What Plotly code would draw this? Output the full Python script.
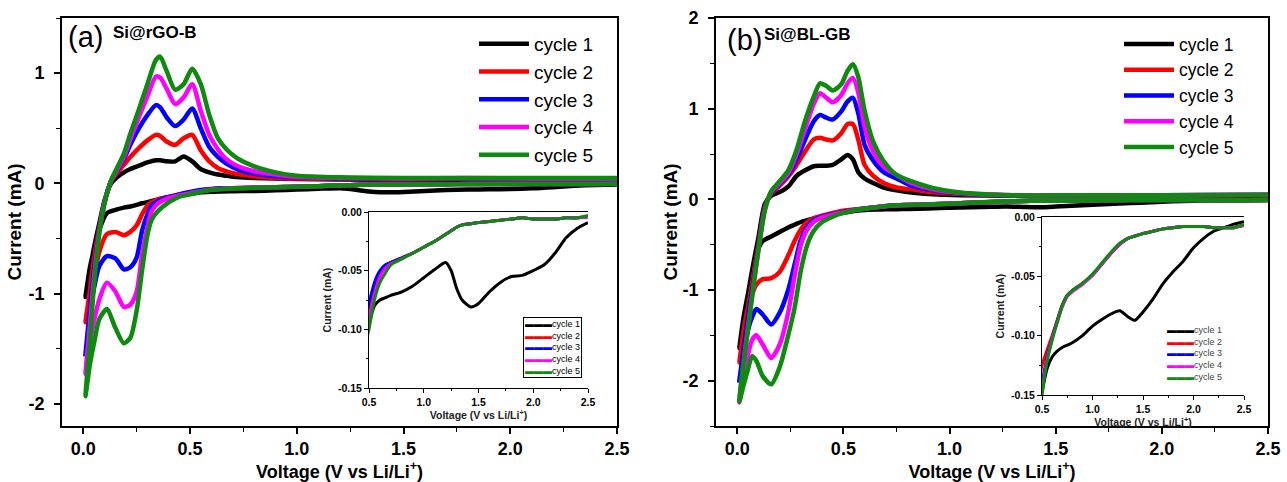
import plotly.graph_objects as go

FONT = "Liberation Sans, Arial, sans-serif"
CYCLES = ["cycle 1", "cycle 2", "cycle 3", "cycle 4", "cycle 5"]
COLORS = ["#000000", "#ff0000", "#0000ff", "#ff00ff", "#0e8a0e"]

# ---------------- Panel (a) Si@rGO-B ----------------
A_CATH_V = [2.5, 2.4, 2.3, 2.2, 2.1, 2.0, 1.9, 1.8, 1.7, 1.6, 1.5, 1.43, 1.35, 1.3, 1.25, 1.2, 1.1, 1.0,
            0.9, 0.8, 0.7, 0.65, 0.6, 0.55, 0.5,
            0.45, 0.39, 0.35, 0.32, 0.3, 0.275, 0.25, 0.22, 0.19, 0.15, 0.11, 0.075, 0.05, 0.03, 0.01]
A_CATH_C1 = [-0.009, -0.014, -0.022, -0.035, -0.045, -0.05, -0.054, -0.055, -0.06, -0.068, -0.078, -0.081,
             -0.075, -0.065, -0.05, -0.043, -0.049, -0.056, -0.063, -0.068, -0.071, -0.073, -0.075, -0.08, -0.095,
             -0.11, -0.13, -0.145, -0.16, -0.17, -0.18, -0.195, -0.21, -0.22, -0.24, -0.27, -0.42, -0.6, -0.77, -1.03]
A_CATH_C2 = [-0.004, -0.005, -0.005, -0.006, -0.006, -0.006, -0.005, -0.006, -0.007, -0.008, -0.009, -0.01,
             -0.011, -0.013, -0.016, -0.019, -0.025, -0.03, -0.035, -0.039, -0.043, -0.046, -0.052, -0.065, -0.085,
             -0.1, -0.125, -0.145, -0.17, -0.2, -0.28, -0.38, -0.44, -0.47, -0.44, -0.46, -0.62, -0.86, -1.05, -1.26]
A_CATH_C3 = [-0.004, -0.005, -0.005, -0.006, -0.006, -0.006, -0.005, -0.006, -0.007, -0.008, -0.009, -0.01,
             -0.011, -0.013, -0.016, -0.019, -0.025, -0.03, -0.035, -0.039, -0.043, -0.045, -0.05, -0.06, -0.078,
             -0.1, -0.13, -0.16, -0.2, -0.28, -0.43, -0.67, -0.76, -0.78, -0.68, -0.66, -0.75, -0.95, -1.2, -1.55]
A_CATH_C4 = [-0.004, -0.005, -0.005, -0.006, -0.006, -0.006, -0.005, -0.006, -0.007, -0.008, -0.009, -0.01,
             -0.011, -0.013, -0.016, -0.019, -0.025, -0.03, -0.035, -0.04, -0.044, -0.048, -0.055, -0.07, -0.09,
             -0.11, -0.14, -0.18, -0.25, -0.4, -0.65, -0.98, -1.1, -1.12, -0.98, -0.9, -1.05, -1.25, -1.45, -1.73]
A_CATH_C5 = [-0.003, -0.005, -0.005, -0.006, -0.006, -0.006, -0.005, -0.006, -0.007, -0.008, -0.009, -0.01,
             -0.011, -0.013, -0.016, -0.019, -0.025, -0.03, -0.035, -0.04, -0.045, -0.052, -0.06, -0.075, -0.1,
             -0.12, -0.185, -0.25, -0.33, -0.47, -0.79, -1.15, -1.4, -1.45, -1.31, -1.14, -1.23, -1.45, -1.65, -1.93]

A_AN_V = [0.01, 0.03, 0.05, 0.075, 0.1, 0.13, 0.16, 0.19, 0.22, 0.26, 0.3, 0.34, 0.36, 0.39, 0.43, 0.47,
          0.51, 0.55, 0.59, 0.63, 0.67, 0.72, 0.8, 0.9, 1.0, 1.2, 1.5, 1.8, 2.1, 2.5]
A_AN_C1 = [-1.03, -0.8, -0.58, -0.36, -0.15, 0.0, 0.06, 0.1, 0.13, 0.16, 0.19, 0.21, 0.21, 0.2, 0.2, 0.245,
           0.2, 0.13, 0.1, 0.08, 0.07, 0.058, 0.05, 0.045, 0.04, 0.035, 0.03, 0.03, 0.03, 0.03]
A_AN_C2 = [-1.26, -0.98, -0.68, -0.4, -0.16, 0.02, 0.1, 0.17, 0.24, 0.32, 0.39, 0.44, 0.43, 0.38, 0.35, 0.41,
           0.44, 0.3, 0.2, 0.14, 0.11, 0.085, 0.065, 0.05, 0.045, 0.04, 0.035, 0.04, 0.035, 0.035]
A_AN_C3 = [-1.55, -1.15, -0.78, -0.42, -0.17, 0.02, 0.12, 0.22, 0.35, 0.5, 0.62, 0.71, 0.69, 0.6, 0.52, 0.58,
           0.68, 0.5, 0.33, 0.24, 0.18, 0.13, 0.09, 0.065, 0.055, 0.045, 0.04, 0.045, 0.04, 0.04]
A_AN_C4 = [-1.73, -1.3, -0.85, -0.43, -0.17, 0.02, 0.13, 0.24, 0.4, 0.6, 0.79, 0.97, 0.96, 0.86, 0.72, 0.78,
           0.9, 0.66, 0.44, 0.31, 0.22, 0.16, 0.11, 0.08, 0.06, 0.05, 0.045, 0.05, 0.045, 0.045]
A_AN_C5 = [-1.93, -1.45, -0.92, -0.45, -0.17, 0.03, 0.15, 0.27, 0.45, 0.67, 0.9, 1.12, 1.15, 1.02, 0.85, 0.9,
           1.04, 0.9, 0.62, 0.41, 0.31, 0.23, 0.155, 0.1, 0.07, 0.055, 0.05, 0.05, 0.05, 0.05]

# ---------------- Panel (b) Si@BL-GB ----------------
B_CATH_V = [2.5, 2.4, 2.3, 2.2, 2.1, 2.0, 1.9, 1.8, 1.7, 1.6, 1.5, 1.42, 1.35, 1.27, 1.2, 1.1, 1.0,
            0.9, 0.8, 0.75, 0.7, 0.65, 0.6, 0.55, 0.5,
            0.45, 0.4, 0.36, 0.33, 0.3, 0.27, 0.24, 0.2, 0.16, 0.12, 0.09, 0.07, 0.05, 0.03, 0.01]
B_CATH_C1 = [-0.004, -0.006, -0.009, -0.012, -0.018, -0.026, -0.037, -0.046, -0.056, -0.069, -0.08, -0.087,
             -0.084, -0.079, -0.081, -0.086, -0.092, -0.1, -0.106, -0.108, -0.11, -0.113, -0.118, -0.128, -0.148,
             -0.17, -0.19, -0.21, -0.23, -0.25, -0.28, -0.31, -0.36, -0.41, -0.46, -0.6, -0.82, -1.05, -1.3, -1.64]
B_CATH_C2 = [-0.007, -0.009, -0.009, -0.009, -0.008, -0.008, -0.008, -0.009, -0.01, -0.012, -0.014, -0.016,
             -0.018, -0.023, -0.029, -0.039, -0.049, -0.056, -0.062, -0.066, -0.074, -0.087, -0.1, -0.112, -0.125,
             -0.15, -0.18, -0.21, -0.25, -0.33, -0.46, -0.62, -0.8, -0.87, -0.88, -0.94, -1.05, -1.2, -1.45, -1.8]
B_CATH_C3 = [-0.007, -0.009, -0.009, -0.009, -0.008, -0.008, -0.008, -0.009, -0.01, -0.012, -0.014, -0.016,
             -0.018, -0.023, -0.029, -0.039, -0.049, -0.056, -0.062, -0.066, -0.075, -0.088, -0.102, -0.118, -0.14,
             -0.16, -0.19, -0.23, -0.3, -0.44, -0.72, -1.0, -1.25, -1.38, -1.27, -1.21, -1.3, -1.45, -1.68, -2.0]
B_CATH_C4 = [-0.007, -0.009, -0.009, -0.009, -0.008, -0.008, -0.008, -0.009, -0.01, -0.012, -0.014, -0.016,
             -0.018, -0.023, -0.029, -0.039, -0.049, -0.057, -0.063, -0.067, -0.076, -0.089, -0.103, -0.12, -0.145,
             -0.17, -0.2, -0.25, -0.33, -0.5, -0.85, -1.25, -1.6, -1.75, -1.6, -1.5, -1.55, -1.72, -1.95, -2.24]
B_CATH_C5 = [-0.006, -0.009, -0.009, -0.009, -0.008, -0.008, -0.008, -0.009, -0.01, -0.012, -0.014, -0.016,
             -0.018, -0.022, -0.028, -0.038, -0.048, -0.056, -0.062, -0.066, -0.075, -0.089, -0.104, -0.122, -0.15,
             -0.19, -0.25, -0.35, -0.5, -0.78, -1.2, -1.5, -1.85, -2.04, -1.95, -1.78, -1.73, -1.88, -2.05, -2.23]

B_AN_V = [0.01, 0.03, 0.05, 0.075, 0.1, 0.13, 0.16, 0.2, 0.24, 0.28, 0.32, 0.36, 0.39, 0.42, 0.45, 0.49,
          0.52, 0.545, 0.57, 0.6, 0.64, 0.69, 0.75, 0.82, 0.92, 1.05, 1.3, 1.6, 2.0, 2.5]
B_AN_C1 = [-1.64, -1.35, -1.05, -0.72, -0.42, -0.05, 0.04, 0.08, 0.14, 0.26, 0.32, 0.365, 0.37, 0.37, 0.38, 0.44,
           0.49, 0.44, 0.3, 0.23, 0.18, 0.13, 0.1, 0.075, 0.055, 0.045, 0.04, 0.035, 0.035, 0.035]
B_AN_C2 = [-1.8, -1.5, -1.2, -0.85, -0.5, -0.08, 0.06, 0.15, 0.25, 0.38, 0.53, 0.66, 0.68, 0.66, 0.65, 0.73,
           0.83, 0.83, 0.66, 0.38, 0.26, 0.18, 0.13, 0.11, 0.08, 0.06, 0.045, 0.04, 0.04, 0.045]
B_AN_C3 = [-2.0, -1.65, -1.3, -0.92, -0.53, -0.1, 0.07, 0.17, 0.27, 0.44, 0.66, 0.86, 0.93, 0.9, 0.88, 0.97,
           1.08, 1.12, 0.95, 0.6, 0.43, 0.3, 0.23, 0.15, 0.1, 0.065, 0.045, 0.045, 0.045, 0.05]
B_AN_C4 = [-2.24, -1.8, -1.42, -0.98, -0.56, -0.12, 0.08, 0.18, 0.29, 0.5, 0.78, 1.05, 1.17, 1.12, 1.07, 1.15,
           1.28, 1.34, 1.18, 0.8, 0.53, 0.36, 0.27, 0.18, 0.11, 0.07, 0.045, 0.045, 0.045, 0.05]
B_AN_C5 = [-2.23, -1.8, -1.45, -0.98, -0.55, -0.12, 0.09, 0.2, 0.32, 0.55, 0.87, 1.13, 1.28, 1.25, 1.2, 1.27,
           1.42, 1.49, 1.35, 0.98, 0.64, 0.42, 0.27, 0.2, 0.125, 0.075, 0.045, 0.045, 0.045, 0.05]

# ---------------- Tick labels ----------------
MAIN_X_TICKS = [0.0, 0.5, 1.0, 1.5, 2.0, 2.5]
MAIN_X_LABELS = ["0.0", "0.5", "1.0", "1.5", "2.0", "2.5"]
A_Y_TICKS = [-2, -1, 0, 1]
A_Y_LABELS = ["-2", "-1", "0", "1"]
B_Y_TICKS = [-2, -1, 0, 1, 2]
B_Y_LABELS = ["-2", "-1", "0", "1", "2"]
INS_X_TICKS = [0.5, 1.0, 1.5, 2.0, 2.5]
INS_X_LABELS = ["0.5", "1.0", "1.5", "2.0", "2.5"]
INS_Y_TICKS = [-0.15, -0.10, -0.05, 0.0]
INS_Y_LABELS = ["-0.15", "-0.10", "-0.05", "0.00"]

A_CATH = [A_CATH_C1, A_CATH_C2, A_CATH_C3, A_CATH_C4, A_CATH_C5]
A_AN = [A_AN_C1, A_AN_C2, A_AN_C3, A_AN_C4, A_AN_C5]
B_CATH = [B_CATH_C1, B_CATH_C2, B_CATH_C3, B_CATH_C4, B_CATH_C5]
B_AN = [B_AN_C1, B_AN_C2, B_AN_C3, B_AN_C4, B_AN_C5]

fig = go.Figure()


def add_panel(cath_v, cath, an_v, an, xa, ya, xi, yi, legend):
    for k in range(5):
        xs = list(cath_v) + list(an_v[1:])
        ys = list(cath[k]) + list(an[k][1:])
        fig.add_trace(go.Scatter(
            x=xs, y=ys, mode="lines", name=CYCLES[k], xaxis=xa, yaxis=ya, legend=legend,
            line=dict(color=COLORS[k], width=4.5, shape="spline", smoothing=0.7)))
    for k in range(5):
        xs = list(cath_v) + list(an_v[1:])
        ys = list(cath[k]) + list(an[k][1:])
        fig.add_trace(go.Scatter(
            x=xs, y=ys, mode="lines", name=CYCLES[k], xaxis=xi, yaxis=yi, showlegend=False,
            line=dict(color=COLORS[k], width=3, shape="spline", smoothing=0.7)))


add_panel(A_CATH_V, A_CATH, A_AN_V, A_AN, "x", "y", "x2", "y2", "legend")
add_panel(B_CATH_V, B_CATH, B_AN_V, B_AN, "x3", "y3", "x4", "y4", "legend2")

W, H = 1287, 482


def px(x):
    return x / W


def py(y):
    return 1 - y / H


def main_x(domain, anchor):
    return dict(domain=domain, range=[-0.1, 2.5], tickvals=MAIN_X_TICKS, ticktext=MAIN_X_LABELS, anchor=anchor,
                automargin=False,
                showline=True, linecolor="black", linewidth=1.6, mirror=True, showgrid=False, zeroline=False,
                ticks="outside", ticklen=6, tickwidth=1.5, tickcolor="black",
                minor=dict(dtick=0.25, tick0=0, ticks="outside", ticklen=4, tickwidth=1.2, tickcolor="black"),
                tickfont=dict(family=FONT, size=18, color="black", weight="bold"),
                title=dict(text="Voltage (V vs Li/Li<sup>+</sup>)", standoff=3,
                           font=dict(family=FONT, size=18, color="black", weight="bold")))


def main_y(domain, rng, tv, tt, anchor, standoff):
    return dict(domain=domain, range=rng, tickvals=tv, ticktext=tt, anchor=anchor, automargin=False,
                showline=True, linecolor="black", linewidth=1.6, mirror=True, showgrid=False, zeroline=False,
                ticks="outside", ticklen=6, tickwidth=1.5, tickcolor="black",
                minor=dict(dtick=0.5, tick0=0, ticks="outside", ticklen=4, tickwidth=1.2, tickcolor="black"),
                tickfont=dict(family=FONT, size=18, color="black", weight="bold"),
                ticklabelstandoff=6,
                title=dict(text="Current (mA)", standoff=standoff,
                           font=dict(family=FONT, size=19, color="black", weight="bold")))


def ins_x(domain, anchor):
    return dict(domain=domain, range=[0.5, 2.5], tickvals=INS_X_TICKS, ticktext=INS_X_LABELS, anchor=anchor,
                automargin=False,
                showline=True, linecolor="black", linewidth=1, mirror=True, showgrid=False, zeroline=False,
                ticks="outside", ticklen=4, tickwidth=1, tickcolor="black",
                minor=dict(dtick=0.25, tick0=0.5, ticks="outside", ticklen=2, tickcolor="black"),
                tickfont=dict(family=FONT, size=10.5, color="black", weight="bold"),
                title=dict(text="Voltage (V vs Li/Li<sup>+</sup>)", standoff=2,
                           font=dict(family=FONT, size=10.5, color="#222", weight="bold")))


def ins_y(domain, anchor):
    return dict(domain=domain, range=[-0.15, 0.0], tickvals=INS_Y_TICKS, ticktext=INS_Y_LABELS, anchor=anchor,
                automargin=False,
                showline=True, linecolor="black", linewidth=1, showgrid=False, zeroline=False,
                ticks="outside", ticklen=4, tickwidth=1, tickcolor="black",
                minor=dict(dtick=0.025, tick0=0, ticks="outside", ticklen=2, tickcolor="black"),
                tickfont=dict(family=FONT, size=10.5, color="black", weight="bold"),
                title=dict(text="Current (mA)", standoff=4,
                           font=dict(family=FONT, size=10.5, color="#222", weight="bold")))


main_ydom = [py(426), py(18)]
fig.update_layout(
    width=W, height=H, margin=dict(l=0, r=0, t=0, b=0, autoexpand=False),
    paper_bgcolor="white", plot_bgcolor="white",
    xaxis=main_x([px(62), px(617)], "y"),
    yaxis=main_y(main_ydom, [-2.2, 1.5], A_Y_TICKS, A_Y_LABELS, "x", 2),
    xaxis2=ins_x([px(369), px(588)], "y2"),
    yaxis2=ins_y([py(388), py(212)], "x2"),
    xaxis3=main_x([px(716), px(1268)], "y3"),
    yaxis3=main_y(main_ydom, [-2.5, 2.0], B_Y_TICKS, B_Y_LABELS, "x3", 0),
    xaxis4=ins_x([px(1042), px(1244)], "y4"),
    yaxis4=ins_y([py(395), py(217)], "x4"),
    legend=dict(x=px(474), y=py(25), xanchor="left", yanchor="top", bgcolor="rgba(0,0,0,0)",
                font=dict(family=FONT, size=19, color="black"), itemwidth=50, tracegroupgap=0),
    legend2=dict(x=px(1119), y=py(26), xanchor="left", yanchor="top", bgcolor="rgba(0,0,0,0)",
                 font=dict(family=FONT, size=17.5, color="black"), itemwidth=50, tracegroupgap=0),
)


def inset_legend_text():
    rows = []
    for k in range(5):
        rows.append('<span style="color:%s">\u25ac\u25ac\u25ac</span>%s' % (COLORS[k], CYCLES[k]))
    return "<br>".join(rows)


annos = [
    dict(text="(a)", x=px(66), y=py(37), xanchor="left", yanchor="middle",
         font=dict(family=FONT, size=29, color="black")),
    dict(text="<b>Si@rGO-B</b>", x=px(111), y=py(33), xanchor="left", yanchor="middle",
         font=dict(family=FONT, size=17, color="black")),
    dict(text="(b)", x=px(725), y=py(40), xanchor="left", yanchor="middle",
         font=dict(family=FONT, size=29, color="black")),
    dict(text="<b>Si@BL-GB</b>", x=px(762), y=py(35), xanchor="left", yanchor="middle",
         font=dict(family=FONT, size=17, color="black")),
    dict(text=inset_legend_text(), x=px(523), y=py(317), xanchor="left", yanchor="top", align="left",
         bordercolor="black", borderwidth=1, borderpad=1, bgcolor="white",
         font=dict(family=FONT, size=9, color="black")),
    dict(text=inset_legend_text(), x=px(1165), y=py(323), xanchor="left", yanchor="top", align="left",
         font=dict(family=FONT, size=9, color="#444")),
]
for a in annos:
    a.update(xref="paper", yref="paper", showarrow=False)
fig.update_layout(annotations=annos)

fig.write_html("out.html")
